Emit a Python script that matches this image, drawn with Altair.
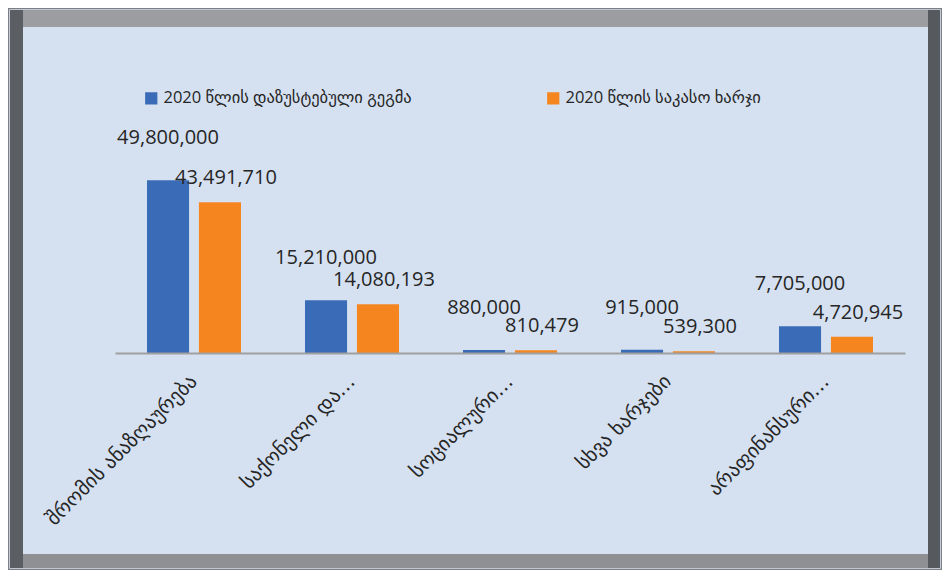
import altair as alt
import pandas as pd

categories = ["შრომის ანაზღაურება", "საქონელი და…", "სოციალური…", "სხვა ხარჯები", "არაფინანსური…"]
series = ["2020 წლის დაზუსტებული გეგმა", "2020 წლის საკასო ხარჯი"]
plan = [49800000, 15210000, 880000, 915000, 7705000]
spent = [43491710, 14080193, 810479, 539300, 4720945]
colors = ["#3a6bb6", "#f5861f"]

rows = []
for c, p, s in zip(categories, plan, spent):
    rows.append({"category": c, "series": series[0], "value": p})
    rows.append({"category": c, "series": series[1], "value": s})
df = pd.DataFrame(rows)

BG = "#d5e1f1"
PAD_L, PAD_T, W, H = 107, 137, 790, 208
TOTAL_W, TOTAL_H = 934, 562


def box(x0, y0, x1, y1, color):
    # decorative frame piece, given in svg pixels, converted to plot coords
    return alt.Chart(pd.DataFrame({"k": [0]})).mark_rect(color=color).encode(
        x=alt.value(x0 - PAD_L), x2=alt.value(x1 - PAD_L),
        y=alt.value(y0 - PAD_T), y2=alt.value(y1 - PAD_T))


outer_line = alt.Chart(pd.DataFrame({"k": [0]})).mark_rect(
    filled=False, stroke="#7d7f84", strokeWidth=1.2).encode(
    x=alt.value(0.6 - PAD_L), x2=alt.value(TOTAL_W - 0.6 - PAD_L),
    y=alt.value(0.6 - PAD_T), y2=alt.value(TOTAL_H - 0.6 - PAD_T))

frame = [
    outer_line,
    box(2, 2, 932, 560, "#8e8f94"),
    box(2, 2, 932, 19, "#9c9da1"),
    box(2, 2, 15, 560, "#5b5e63"),
    box(920, 2, 932, 560, "#56595e"),
    box(15, 546, 920, 560, "#8f9094"),
    box(15, 19, 920, 546, BG),
]

x_enc = alt.X("category:N", sort=categories,
              scale=alt.Scale(paddingInner=0.405, paddingOuter=0.2025),
              axis=alt.Axis(title=None, labelAngle=-45, ticks=False, zindex=1,
                            domainColor="#a0a0a0", domainWidth=2,
                            labelFont="DejaVu Sans", labelFontSize=20,
                            labelColor="#262626", labelPadding=25,
                            labelAlign="right", labelBaseline="middle",
                            labelLimit=400))
xo_enc = alt.XOffset("series:N", sort=series,
                     scale=alt.Scale(paddingInner=0.19, paddingOuter=0))
y_enc = alt.Y("value:Q", scale=alt.Scale(domain=[0, 60000000]), axis=None)

bars = alt.Chart(df).mark_bar().encode(
    x=x_enc, xOffset=xo_enc, y=y_enc,
    color=alt.Color("series:N", sort=series,
                    scale=alt.Scale(domain=series, range=colors),
                    legend=alt.Legend(title=None, orient="none", direction="horizontal",
                                      legendX=28, legendY=-55, zindex=1,
                                      symbolType="square", symbolSize=150,
                                      symbolStrokeWidth=0,
                                      labelFont="Open Sans, DejaVu Sans",
                                      labelFontSize=16.5, labelColor="#262626",
                                      labelLimit=500, columnPadding=133)))

txt_plan = alt.Chart(df).transform_filter(
    alt.datum.series == series[0]).mark_text(
    font="Open Sans", fontSize=20, color="#262626", baseline="middle", dy=-42).encode(
    x=x_enc, xOffset=xo_enc, y=y_enc, text=alt.Text("value:Q", format=",.0f"))

txt_spent = alt.Chart(df).transform_filter(
    alt.datum.series == series[1]).mark_text(
    font="Open Sans", fontSize=20, color="#262626", baseline="middle", dy=-24, dx=6).encode(
    x=x_enc, xOffset=xo_enc, y=y_enc, text=alt.Text("value:Q", format=",.0f"))

chart = alt.layer(*frame, bars, txt_plan, txt_spent).properties(
    width=W, height=H,
    autosize=alt.AutoSizeParams(type="none"),
    padding={"left": PAD_L, "top": PAD_T, "right": TOTAL_W - PAD_L - W,
             "bottom": TOTAL_H - PAD_T - H},
    background=BG,
).configure_view(stroke=None)

chart.save("out.html", embed_options={"renderer": "svg", "actions": False})
